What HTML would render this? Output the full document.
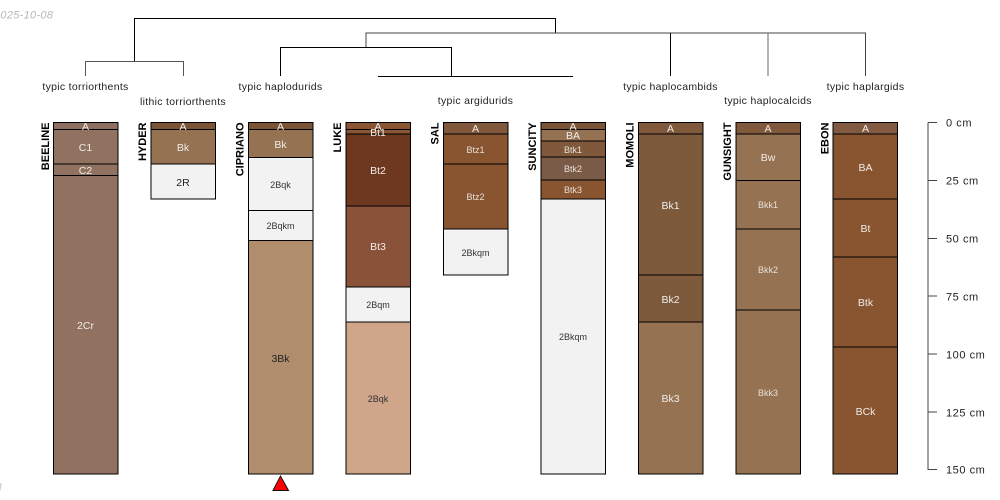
<!DOCTYPE html>
<html><head><meta charset="utf-8"><style>
html,body{margin:0;padding:0;background:#fff}
svg{display:block}
text{font-family:"Liberation Sans",sans-serif}
.t{font-size:10.5px;fill:#222;text-anchor:middle;letter-spacing:.3px}
.l{font-size:10.5px;fill:#f0ece8;text-anchor:middle}
.s{font-size:9px;fill:#e8e0d8;text-anchor:middle}
.d{font-size:10.5px;fill:#222;text-anchor:middle}
.ds{font-size:9px;fill:#333;text-anchor:middle}
.n{font-size:11px;font-weight:bold;fill:#000;text-anchor:end}
.a{font-size:11px;fill:#222;letter-spacing:.55px}
rect{stroke:#000;stroke-width:1}
</style></head><body>
<svg width="1000" height="500" viewBox="0 0 1000 500" xmlns="http://www.w3.org/2000/svg">
<text x="-6" y="18.500" font-size="11" font-style="italic" fill="#b8b8b8" style="letter-spacing:.3px">2025-10-08</text>
<text x="-1" y="491" font-size="11" font-style="italic" fill="#c4c4c4">l</text>

<g fill="none" stroke="#000" stroke-width="1">
<path d="M134.500 61.500V18.500H555.500V33"/>
<path d="M85.500 76V61.500H183.500V76" stroke="#555"/>
<path d="M366 47.500V33H865.500V76" stroke="#444"/>
<path d="M280.500 76V47.500H451.500V76"/>
<path d="M378 76.500H573"/>
<path d="M670.500 33V76"/>
<path d="M768 33V76" stroke="#666"/>
</g>

<text class="t" x="85.500" y="90">typic torriorthents</text>
<text class="t" x="183" y="105">lithic torriorthents</text>
<text class="t" x="280.500" y="90">typic haplodurids</text>
<text class="t" x="475.500" y="104">typic argidurids</text>
<text class="t" x="670.500" y="90">typic haplocambids</text>
<text class="t" x="768" y="104">typic haplocalcids</text>
<text class="t" x="865.500" y="90">typic haplargids</text>

<!-- BEELINE -->
<text class="n" transform="translate(49,122.500) rotate(-90)">BEELINE</text>
<g>
<rect x="53.500" y="122.500" width="64.500" height="7" fill="#8f7060"/>
<rect x="53.500" y="129.500" width="64.500" height="34.500" fill="#917260"/>
<rect x="53.500" y="164" width="64.500" height="11.500" fill="#917260"/>
<rect x="53.500" y="175.500" width="64.500" height="298.500" fill="#917260"/>
<text class="l" x="85.500" y="130">A</text>
<text class="l" x="85.500" y="151">C1</text>
<text class="l" x="85.500" y="174">C2</text>
<text class="l" x="85.500" y="329">2Cr</text>
</g>

<!-- HYDER -->
<text class="n" transform="translate(146,122.500) rotate(-90)">HYDER</text>
<g>
<rect x="151" y="122.500" width="64.500" height="7" fill="#7a5436"/>
<rect x="151" y="129.500" width="64.500" height="34.500" fill="#957252"/>
<rect x="151" y="164" width="64.500" height="35" fill="#f2f2f2"/>
<text class="l" x="183" y="130">A</text>
<text class="l" x="183" y="151">Bk</text>
<text class="d" x="183" y="186">2R</text>
</g>

<!-- CIPRIANO -->
<text class="n" transform="translate(243.500,122.500) rotate(-90)">CIPRIANO</text>
<g>
<rect x="248.500" y="122.500" width="64.500" height="7" fill="#7a5436"/>
<rect x="248.500" y="129.500" width="64.500" height="28" fill="#957252"/>
<rect x="248.500" y="157.500" width="64.500" height="53" fill="#f2f2f2"/>
<rect x="248.500" y="210.500" width="64.500" height="30" fill="#f2f2f2"/>
<rect x="248.500" y="240.500" width="64.500" height="233.500" fill="#b08d6c"/>
<text class="l" x="280.500" y="130">A</text>
<text class="l" x="280.500" y="148">Bk</text>
<text class="ds" x="280.500" y="188">2Bqk</text>
<text class="ds" x="280.500" y="229">2Bqkm</text>
<text class="d" x="280.500" y="362">3Bk</text>
</g>
<path d="M273 490.500L280.500 476L288.500 490.500Z" fill="#f00" stroke="#111" stroke-width="1"/>

<!-- LUKE -->
<text class="n" transform="translate(341,122.500) rotate(-90)">LUKE</text>
<g>
<rect x="346" y="122.500" width="64.500" height="7" fill="#8a5532"/>
<rect x="346" y="129.500" width="64.500" height="4.500" fill="#8a5532"/>
<rect x="346" y="134" width="64.500" height="72" fill="#6e3720"/>
<rect x="346" y="206" width="64.500" height="81" fill="#8a5238"/>
<rect x="346" y="287" width="64.500" height="35" fill="#f2f2f2"/>
<rect x="346" y="322" width="64.500" height="152" fill="#cfa68a"/>
<text class="l" x="378" y="130">A</text>
<text class="l" x="378" y="136">Bt1</text>
<text class="l" x="378" y="174">Bt2</text>
<text class="l" x="378" y="250">Bt3</text>
<text class="ds" x="378" y="308">2Bqm</text>
<text class="ds" x="378" y="402">2Bqk</text>
</g>

<!-- SAL -->
<text class="n" transform="translate(438.500,122.500) rotate(-90)">SAL</text>
<g>
<rect x="443.500" y="122.500" width="64.500" height="11.500" fill="#80593c"/>
<rect x="443.500" y="134" width="64.500" height="30" fill="#895430"/>
<rect x="443.500" y="164" width="64.500" height="65" fill="#895430"/>
<rect x="443.500" y="229" width="64.500" height="46" fill="#f2f2f2"/>
<text class="l" x="475.500" y="132">A</text>
<text class="s" x="475.500" y="153">Btz1</text>
<text class="s" x="475.500" y="200">Btz2</text>
<text class="ds" x="475.500" y="256">2Bkqm</text>
</g>

<!-- SUNCITY -->
<text class="n" transform="translate(536,122.500) rotate(-90)">SUNCITY</text>
<g>
<rect x="541" y="122.500" width="64.500" height="7" fill="#7a5436"/>
<rect x="541" y="129.500" width="64.500" height="11.500" fill="#957252"/>
<rect x="541" y="141" width="64.500" height="16" fill="#80593c"/>
<rect x="541" y="157" width="64.500" height="23" fill="#7a5b48"/>
<rect x="541" y="180" width="64.500" height="19" fill="#895430"/>
<rect x="541" y="199" width="64.500" height="275" fill="#f2f2f2"/>
<text class="l" x="573" y="130">A</text>
<text class="l" x="573" y="139">BA</text>
<text class="s" x="573" y="153">Btk1</text>
<text class="s" x="573" y="172">Btk2</text>
<text class="s" x="573" y="193">Btk3</text>
<text class="ds" x="573" y="340">2Bkqm</text>
</g>

<!-- MOMOLI -->
<text class="n" transform="translate(633.500,122.500) rotate(-90)">MOMOLI</text>
<g>
<rect x="638.500" y="122.500" width="64.500" height="11.500" fill="#80593c"/>
<rect x="638.500" y="134" width="64.500" height="141" fill="#7d5a3c"/>
<rect x="638.500" y="275" width="64.500" height="47" fill="#7d5a3c"/>
<rect x="638.500" y="322" width="64.500" height="152" fill="#957252"/>
<text class="l" x="670.500" y="132">A</text>
<text class="l" x="670.500" y="209">Bk1</text>
<text class="l" x="670.500" y="303">Bk2</text>
<text class="l" x="670.500" y="402">Bk3</text>
</g>

<!-- GUNSIGHT -->
<text class="n" transform="translate(731,122.500) rotate(-90)">GUNSIGHT</text>
<g>
<rect x="736" y="122.500" width="64.500" height="11.500" fill="#80593c"/>
<rect x="736" y="134" width="64.500" height="46.500" fill="#957252"/>
<rect x="736" y="180.500" width="64.500" height="48.500" fill="#957252"/>
<rect x="736" y="229" width="64.500" height="81" fill="#957252"/>
<rect x="736" y="310" width="64.500" height="164" fill="#957252"/>
<text class="l" x="768" y="132">A</text>
<text class="l" x="768" y="161">Bw</text>
<text class="s" x="768" y="208">Bkk1</text>
<text class="s" x="768" y="273">Bkk2</text>
<text class="s" x="768" y="396">Bkk3</text>
</g>

<!-- EBON -->
<text class="n" transform="translate(828.500,122.500) rotate(-90)">EBON</text>
<g>
<rect x="833" y="122.500" width="64.500" height="11.500" fill="#825a42"/>
<rect x="833" y="134" width="64.500" height="65" fill="#895430"/>
<rect x="833" y="199" width="64.500" height="58" fill="#895430"/>
<rect x="833" y="257" width="64.500" height="90" fill="#895430"/>
<rect x="833" y="347" width="64.500" height="127" fill="#895430"/>
<text class="l" x="865.500" y="132">A</text>
<text class="l" x="865.500" y="171">BA</text>
<text class="l" x="865.500" y="232">Bt</text>
<text class="l" x="865.500" y="306">Btk</text>
<text class="l" x="865.500" y="415">BCk</text>
</g>

<!-- Depth axis -->
<g fill="none" stroke="#444" stroke-width="1">
<path d="M928 122.500V470"/>
<path d="M928 122.500H937M928 180.500H937M928 238.500H937M928 296H937M928 354H937M928 412H937M928 469.500H937"/>
</g>
<text class="a" x="946" y="126.500">0 cm</text>
<text class="a" x="946" y="184.500">25 cm</text>
<text class="a" x="946" y="242.500">50 cm</text>
<text class="a" x="946" y="300.500">75 cm</text>
<text class="a" x="946" y="358.500">100 cm</text>
<text class="a" x="946" y="416.500">125 cm</text>
<text class="a" x="946" y="473.500">150 cm</text>
</svg>
</body></html>
